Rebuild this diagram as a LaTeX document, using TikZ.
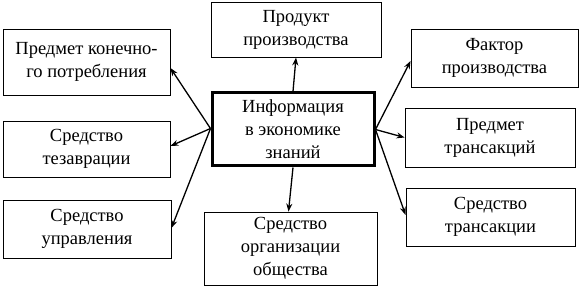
\documentclass[tikz,border=0pt]{standalone}
\usepackage{fontspec}
\setmainfont{Liberation Serif}
\usetikzlibrary{arrows.meta}
\tikzset{
  ib/.style={draw=black, line width=0.9pt, fill=white, align=center,
             font=\fontsize{18.5}{23}\selectfont, inner sep=2pt},
  ibc/.style={ib, line width=3pt},
  ia/.style={-{Stealth[length=8pt,width=6pt]}, line width=1.3pt}
}
\begin{document}
\begin{tikzpicture}[x=1pt, y=-1pt]
  \useasboundingbox (0,0) rectangle (582,286);
  \node[ibc, minimum width=162pt, minimum height=73pt] (inf) at (293,129.5) {Информация\\в экономике\\знаний};
  \node[ib, minimum width=170pt, minimum height=55pt] (prod) at (296,29.5) {Продукт\\производства};
  \node[ib, minimum width=173pt, minimum height=73pt] (org) at (290.5,248.5) {Средство\\организации\\общества};
  \node[ib, minimum width=167pt, minimum height=66pt] (potr) at (86.5,62) {Предмет конечно-\\го потребления};
  \node[ib, minimum width=167pt, minimum height=56pt] (tez) at (86.5,149) {Средство\\тезаврации};
  \node[ib, minimum width=168pt, minimum height=58pt] (upr) at (87,229) {Средство\\управления};
  \node[ib, minimum width=167pt, minimum height=58pt] (fakt) at (494.5,58) {Фактор\\производства};
  \node[ib, minimum width=170pt, minimum height=59pt] (pred) at (490,137.5) {Предмет\\трансакций};
  \node[ib, minimum width=169pt, minimum height=58pt] (sred) at (490.5,217) {Средство\\трансакции};
  % arrows from the centre
  \draw[ia] (inf.north) -- (prod.south);
  \draw[ia] (inf.south) -- ([xshift=-2pt]org.north);
  \draw[ia] ([yshift=1pt]inf.west) -- ([yshift=-6pt]potr.east);
  \draw[ia] ([yshift=1pt]inf.west) -- ([yshift=3pt]tez.east);
  \draw[ia] ([yshift=1pt]inf.west) -- ([yshift=1pt]upr.east);
  \draw[ia] (inf.east) -- ([yshift=-3pt]fakt.west);
  \draw[ia] (inf.east) -- (pred.west);
  \draw[ia] (inf.east) -- ([yshift=2pt]sred.west);
\end{tikzpicture}
\end{document}
